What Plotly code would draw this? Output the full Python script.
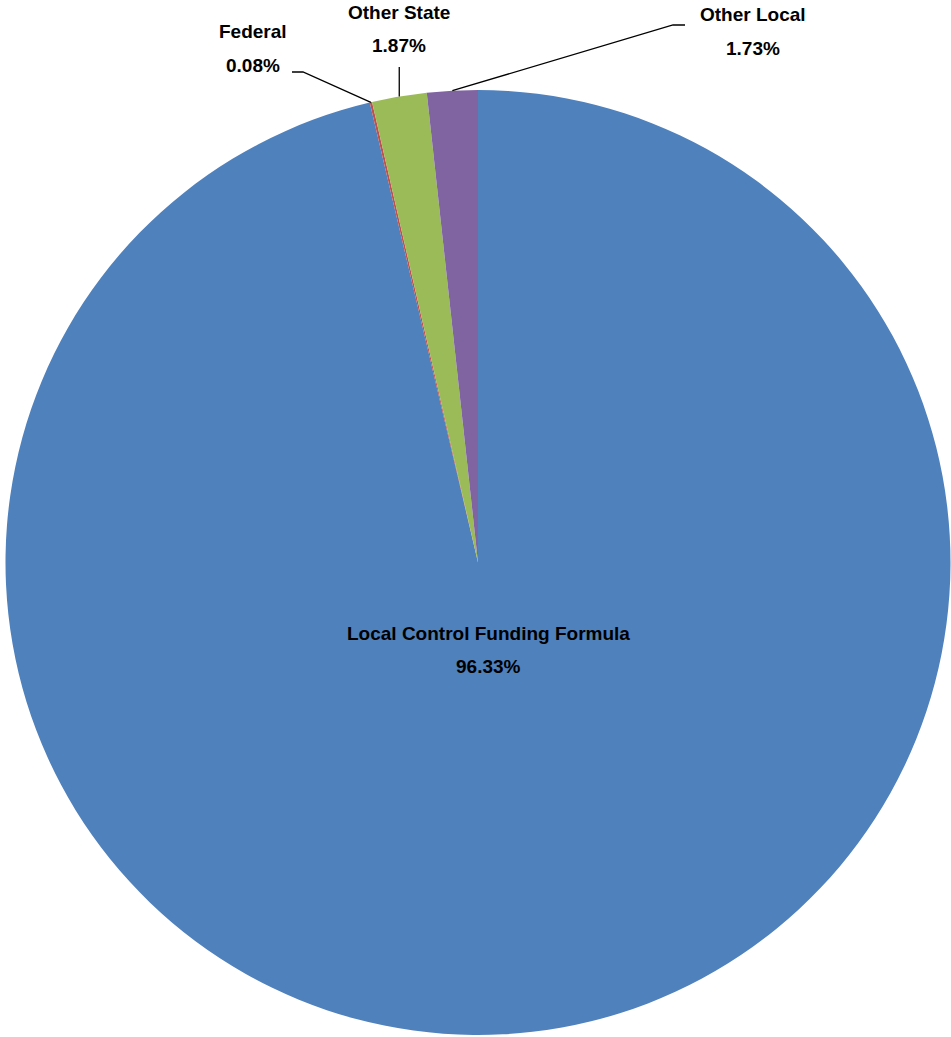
import math
import plotly.graph_objects as go

labels = ["Local Control Funding Formula", "Federal", "Other State", "Other Local"]
values = [96.33, 0.08, 1.87, 1.73]
colors = ["#4F81BD", "#C0504D", "#9BBB59", "#8064A2"]

W, H = 951, 1037
CX, CY, R = 478, 562.5, 472.5  # pie geometry in pixels

def px(x):
    return x / W

def py(y):
    return 1 - y / H

fig = go.Figure(go.Pie(
    labels=labels, values=values, sort=False, direction="clockwise", rotation=0,
    marker=dict(colors=colors, line=dict(width=0)),
    textinfo="none", hoverinfo="label+percent", showlegend=False,
    domain=dict(x=[px(CX - R), px(CX + R)], y=[py(CY + R), py(CY - R)]),
))

# edge anchor points from data
total = sum(values)
cum = 0
anchors = []
for v in values:
    mid = (cum + v / 2) / total
    ang = 2 * math.pi * mid
    anchors.append((CX + R * math.sin(ang), CY - R * math.cos(ang)))
    cum += v

font = dict(family="Liberation Sans", size=19, color="black")
shapes = []
annotations = []

def add_label(i, x, y1, y2):
    for txt, yy in ((labels[i], y1), (f"{values[i]:.2f}%", y2)):
        annotations.append(dict(x=px(x), y=py(yy), xref="paper", yref="paper",
                                text=f"<b>{txt}</b>", showarrow=False, font=font,
                                xanchor="center", yanchor="middle"))

# LCFF inside label
add_label(0, 488, 633, 666)

line_style = dict(color="black", width=1.3)
# Federal
ax, ay = anchors[1]
shapes.append(dict(type="path", xref="paper", yref="paper",
                   path=f"M {px(ax)},{py(ay)} L {px(303)},{py(72)} L {px(292)},{py(72)}",
                   line=line_style))
add_label(1, 253, 32, 66)
# Other State
ax, ay = anchors[2]
shapes.append(dict(type="path", xref="paper", yref="paper",
                   path=f"M {px(ax)},{py(ay)} L {px(ax)},{py(67)}",
                   line=line_style))
add_label(2, 399, 12, 46)
# Other Local
ax, ay = anchors[3]
shapes.append(dict(type="path", xref="paper", yref="paper",
                   path=f"M {px(ax)},{py(ay)} L {px(673)},{py(25)} L {px(685)},{py(25)}",
                   line=line_style))
add_label(3, 753, 14, 48)

fig.update_layout(
    width=W, height=H, margin=dict(l=0, r=0, t=0, b=0),
    paper_bgcolor="white", plot_bgcolor="white",
    shapes=shapes, annotations=annotations,
)
fig.write_html("out.html")
